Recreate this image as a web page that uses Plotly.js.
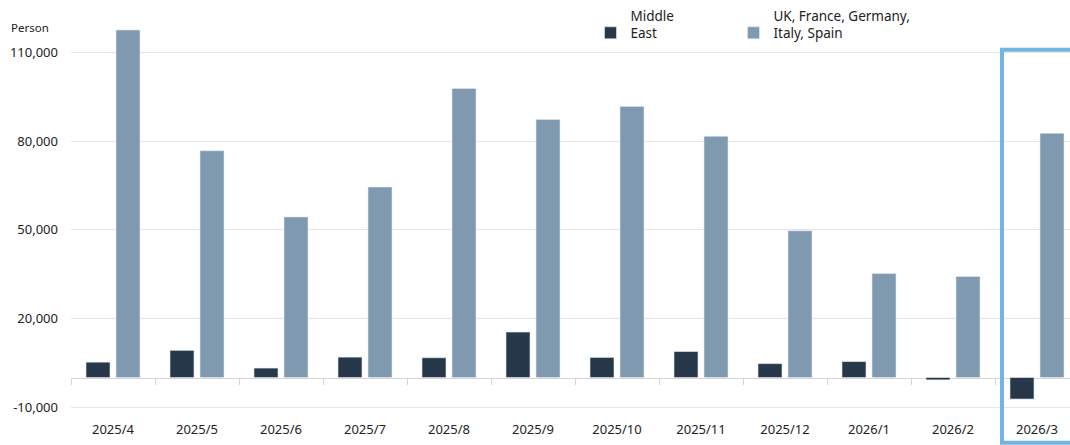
<!DOCTYPE html>
<html>
<head>
<meta charset="utf-8">
<script src="https://cdn.plot.ly/plotly-3.0.1.min.js"></script>
<style>
  html, body { margin: 0; padding: 0; background: #ffffff; }
  #chart { width: 1070px; height: 445px; }
</style>
</head>
<body>
<div id="chart"></div>
<script>
// ---- data ----
const categories = ['2025/4', '2025/5', '2025/6', '2025/7', '2025/8', '2025/9',
                    '2025/10', '2025/11', '2025/12', '2026/1', '2026/2', '2026/3'];
const middleEast = [5200, 9200, 3200, 6900, 6700, 15400, 6800, 8800, 4700, 5400, -800, -7300];
const europeFive = [117700, 76800, 54400, 64500, 97900, 87400, 91800, 81700, 49700, 35200, 34200, 82700];
const seriesNames = ['Middle<br>East', 'UK, France, Germany,<br>Italy, Spain'];
const yTickVals = [-10000, 20000, 50000, 80000, 110000];
const yTickText = ['-10,000', '20,000', '50,000', '80,000', '110,000'];
const unitLabel = 'Person';

// ---- layout constants ----
const W = 1070, H = 445;
const mL = 71, mR = 0, mT = 20, mB = 35;
const plotW = W - mL - mR;
const plotH = H - mT - mB;
const yMin = -11000, yMax = 120400;
const xMax = -0.5 + plotW / 84;
const zeroPos = (0 - yMin) / (yMax - yMin);
const FONT = '"Noto Sans", "Open Sans", sans-serif';

const traces = [
  {
    type: 'bar', name: seriesNames[0], x: categories, y: middleEast, legend: 'legend',
    marker: { color: '#263849', line: { color: '#e4e9ee', width: 0.6 } },
    hoverinfo: 'skip'
  },
  {
    type: 'bar', name: seriesNames[1], x: categories, y: europeFive, legend: 'legend2',
    marker: { color: '#7f99b0', line: { color: '#e4e9ee', width: 0.6 } },
    hoverinfo: 'skip'
  },
  {
    type: 'scatter', mode: 'none', x: categories, y: categories.map(() => null),
    xaxis: 'x2', showlegend: false, hoverinfo: 'skip'
  }
];

const legendBase = {
  orientation: 'h', xanchor: 'left', y: 1.058, yanchor: 'top',
  font: { family: FONT, size: 13.5, color: '#222222' },
  valign: 'bottom', bgcolor: 'rgba(0,0,0,0)', itemclick: false
};

const layout = {
  width: W, height: H,
  margin: { l: mL, r: mR, t: mT, b: mB, pad: 0 },
  paper_bgcolor: '#ffffff', plot_bgcolor: '#ffffff',
  font: { family: FONT, size: 13, color: '#222222' },
  barmode: 'group', bargap: 0.2857, bargroupgap: 0.2,
  showlegend: true,
  legend: Object.assign({}, legendBase, { x: (590.5 - mL) / plotW }),
  legend2: Object.assign({}, legendBase, { x: (733.5 - mL) / plotW }),
  xaxis: {
    type: 'category', range: [-0.5, xMax], fixedrange: true,
    showgrid: false, zeroline: false, showline: false, ticks: '',
    tickfont: { family: FONT, size: 13, color: '#222222' },
    ticklabelstandoff: 10
  },
  xaxis2: {
    type: 'category', matches: 'x', overlaying: 'x', anchor: 'free', position: zeroPos,
    showgrid: false, zeroline: false, showline: true, linecolor: '#d6d6d6', linewidth: 1,
    ticks: 'outside', tickson: 'boundaries', ticklen: 6, tickcolor: '#d6d6d6', tickwidth: 1,
    showticklabels: false, layer: 'below traces'
  },
  yaxis: {
    range: [yMin, yMax], fixedrange: true,
    tickmode: 'array', tickvals: yTickVals, ticktext: yTickText,
    showgrid: true, gridcolor: '#e6e6e6', gridwidth: 1,
    zeroline: false, showline: false, ticks: '',
    tickfont: { family: FONT, size: 13, color: '#222222' },
    ticklabelstandoff: 12
  },
  annotations: [
    {
      xref: 'paper', yref: 'paper', x: (9 - mL) / plotW, y: (H - mB - 26) / plotH,
      xanchor: 'left', yanchor: 'middle', text: unitLabel, showarrow: false,
      font: { family: FONT, size: 11.5, color: '#222222' }
    }
  ],
  shapes: [
    {
      type: 'rect', xref: 'paper', yref: 'paper',
      x0: (1002 - mL) / plotW, x1: 1.1,
      y0: (H - mB - 443) / plotH, y1: (H - mB - 48) / plotH,
      line: { color: '#72b4e4', width: 4 }, fillcolor: 'rgba(0,0,0,0)', layer: 'above'
    }
  ]
};

Plotly.newPlot('chart', traces, layout, { staticPlot: true, displayModeBar: false });
</script>
</body>
</html>
